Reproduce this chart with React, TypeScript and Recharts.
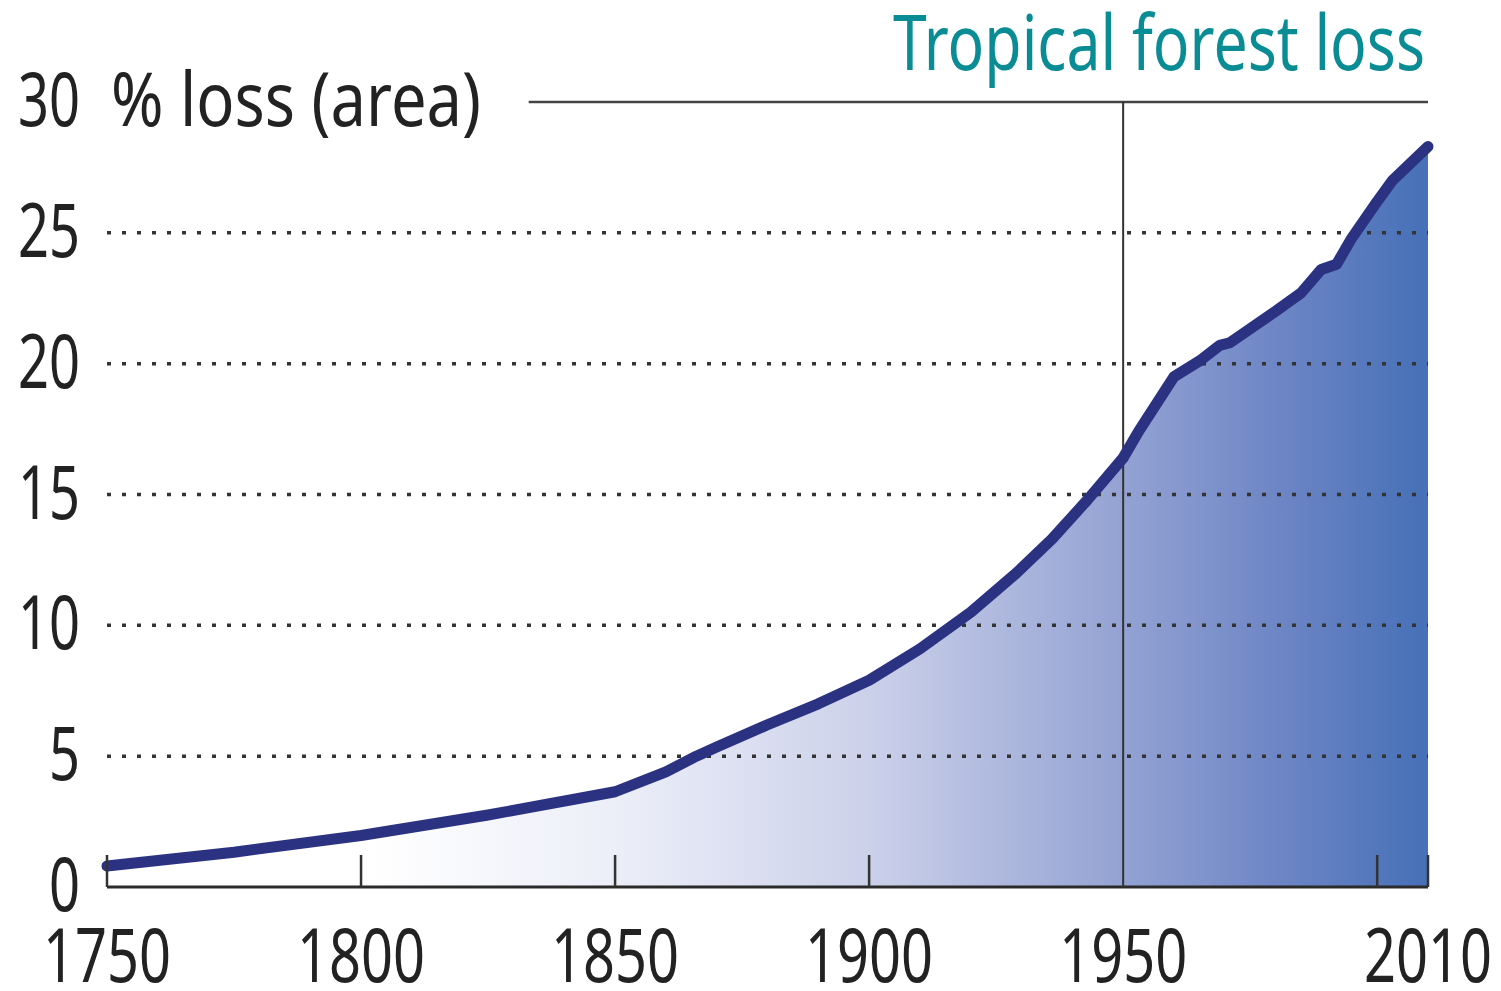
import React from 'react';
import { ComposedChart, Area, Line, XAxis, YAxis, ReferenceLine } from 'recharts';

// Cumulative tropical forest loss, % of original area
const years = [
  1750, 1775, 1800, 1825, 1850, 1860, 1866, 1870, 1880, 1890, 1900, 1910, 1920, 1929, 1936,
  1943, 1950, 1953, 1955, 1960, 1965, 1969, 1971, 1980, 1985, 1989, 1992, 1995, 2000, 2003, 2010,
];
const lossPct = [
  0.8, 1.33, 1.97, 2.75, 3.64, 4.4, 5.0, 5.35, 6.2, 7.0, 7.9, 9.1, 10.5, 12.0, 13.3,
  14.8, 16.4, 17.4, 18.0, 19.5, 20.1, 20.7, 20.8, 22.0, 22.7, 23.6, 23.8, 24.8, 26.2, 27.0, 28.3,
];

const xTicks = [1750, 1800, 1850, 1900, 1950, 2000, 2010];
const xTickLabels = ['1750', '1800', '1850', '1900', '1950', '', '2010'];
const yTicks = [0, 5, 10, 15, 20, 25, 30];
const gridLevels = [5, 10, 15, 20, 25];

const title = 'Tropical forest loss';
const unitLabel = '% loss (area)';

const data = years.map((year, i) => ({ year, loss: lossPct[i] }));

const FONT = '"Noto Sans", "Open Sans", sans-serif';
const INK = '#222222';
const LINE = '#2b3282';

const XTick = (props: any) => {
  const { x, y, payload } = props;
  const label = xTickLabels[xTicks.indexOf(payload.value)] || '';
  const w = label.length * 32;
  return (
    <g>
      {payload.value !== 1950 && (
        <line x1={x} x2={x} y1={y} y2={y - 32} stroke="#333" strokeWidth={2.5} />
      )}
      {label && (
        <text x={x - w / 2} y={y + 95} textLength={w} lengthAdjust="spacingAndGlyphs"
          fontSize={74} fontFamily={FONT} fill={INK}>{label}</text>
      )}
    </g>
  );
};

const YTick = (props: any) => {
  const { x, y, payload } = props;
  const label = String(payload.value);
  const w = label.length * 31;
  return (
    <g>
      <text x={x - 27 - w} y={y + 24} textLength={w} lengthAdjust="spacingAndGlyphs"
        fontSize={74} fontFamily={FONT} fill={INK}>{label}</text>
      {payload.value === 30 && (
        <text x={x + 4} y={y + 24} textLength={370} lengthAdjust="spacingAndGlyphs"
          fontSize={74} fontFamily={FONT} fill={INK}>{unitLabel}</text>
      )}
    </g>
  );
};

export default function App() {
  return (
    <div style={{ position: 'absolute', left: 0, top: 0, background: '#fff' }}>
      <ComposedChart width={1501} height={991} data={data}
        margin={{ top: 102, right: 73, bottom: 0, left: 0 }}>
        <defs>
          <linearGradient id="lossFill" x1="0" y1="0" x2="1" y2="0">
            <stop offset="0" stopColor="#ffffff" />
            <stop offset="0.2" stopColor="#ffffff" />
            <stop offset="0.385" stopColor="#eceef8" />
            <stop offset="0.577" stopColor="#ccd1ea" />
            <stop offset="0.77" stopColor="#93a2d3" />
            <stop offset="0.88" stopColor="#7087c6" />
            <stop offset="1" stopColor="#4670b7" />
          </linearGradient>
        </defs>
        <XAxis dataKey="year" type="number" domain={[1750, 2010]} ticks={xTicks} interval={0}
          height={104} tickSize={0} tickMargin={0} tick={<XTick />}
          axisLine={{ stroke: '#2b2b2b', strokeWidth: 3 }} tickLine={false} />
        <YAxis type="number" domain={[0, 30]} ticks={yTicks} interval={0} width={107}
          tickSize={0} tickMargin={0} tick={<YTick />} axisLine={false} tickLine={false} />
        <Area type="linear" dataKey="loss" stroke="none" fill="url(#lossFill)" fillOpacity={1}
          isAnimationActive={false} />
        {gridLevels.map((v) => (
          <ReferenceLine key={v} y={v} stroke="#333" strokeWidth={3.5} strokeDasharray="4 11" />
        ))}
        <ReferenceLine segment={[{ x: 1833, y: 30 }, { x: 2010, y: 30 }]} stroke="#444" strokeWidth={2.5} />
        <ReferenceLine x={1950} stroke="#333" strokeWidth={2} />
        <Line type="linear" dataKey="loss" stroke={LINE} strokeWidth={11} dot={false}
          strokeLinecap="round" strokeLinejoin="round" isAnimationActive={false} />
        <text x={893} y={70} textLength={532} lengthAdjust="spacingAndGlyphs"
          fontSize={76} fontFamily={FONT} fill="#0a8c94">{title}</text>
      </ComposedChart>
    </div>
  );
}
